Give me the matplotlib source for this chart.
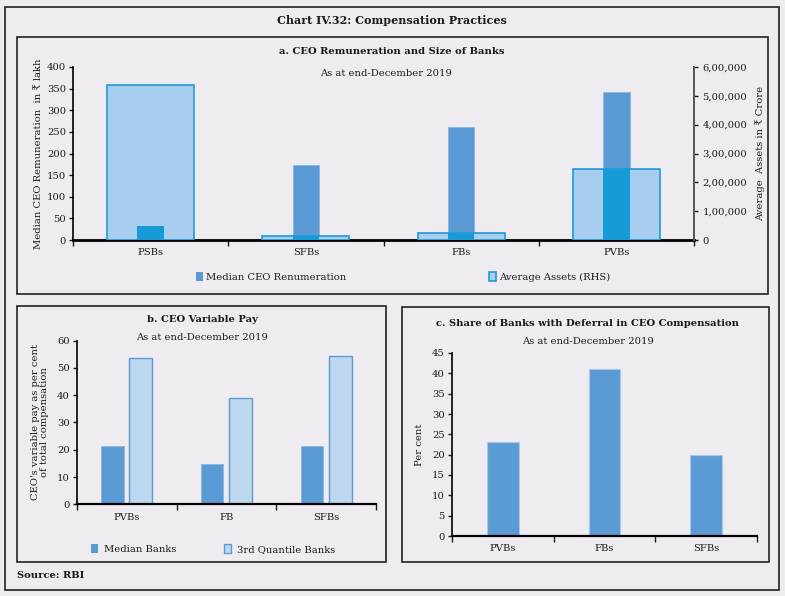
import matplotlib
matplotlib.use('Agg')
import matplotlib.pyplot as plt
import matplotlib.patches as mpt
from matplotlib.lines import Line2D
import numpy as np

# ------------------------------------------------------------------ DATA
cats_a = ['PSBs', 'SFBs', 'FBs', 'PVBs']
remun_a = [32, 173, 262, 343]                 # median CEO remuneration, Rs lakh
assets_a = [537000, 13000, 23000, 245000]     # average assets, Rs crore (RHS)

cats_b = ['PVBs', 'FB', 'SFBs']
median_b = [21.3, 14.9, 21.5]
quart_b = [53.5, 38.9, 54.3]

cats_c = ['PVBs', 'FBs', 'SFBs']
share_c = [23, 41, 20]

# ------------------------------------------------------------------ STYLE
W, H = 785, 596
bg = '#efecf1'
dark = '#5b9bd5'
light_a = '#a9cdee'
edge_a = '#1f9ad8'
overlap = '#169bd7'
light_b = '#bdd7ee'
txt = '#1a1a1a'
fnt = 7.2

plt.rcParams['font.family'] = ['DejaVu Serif', 'DejaVu Sans']
plt.rcParams['font.size'] = fnt
plt.rcParams['text.color'] = txt
plt.rcParams['axes.labelcolor'] = txt
plt.rcParams['xtick.color'] = txt
plt.rcParams['ytick.color'] = txt

fig = plt.figure(figsize=(W/100, H/100), dpi=100, facecolor=bg)


def px_axes(x0, y0, x1, y1):
    return fig.add_axes([x0/W, 1-y1/H, (x1-x0)/W, (y1-y0)/H])


def px_box(x0, y0, x1, y1, lw=1.2):
    r = mpt.Rectangle((x0/W, 1-y1/H), (x1-x0)/W, (y1-y0)/H, transform=fig.transFigure,
                      fill=False, ec='#222222', lw=lw)
    fig.add_artist(r)


def px_text(x, y, s, **kw):
    fig.text(x/W, 1-y/H, s, ha=kw.pop('ha', 'center'), va=kw.pop('va', 'center'), **kw)


def style_cat_axis(ax, n, names):
    ax.set_xlim(-0.5, n-0.5)
    ax.set_xticks(np.arange(-0.5, n, 1.0))
    ax.set_xticklabels([])
    ax.set_xticks(np.arange(n), minor=True)
    ax.set_xticklabels(names, minor=True)
    ax.tick_params(axis='x', which='major', length=4, width=1, direction='out')
    ax.tick_params(axis='x', which='minor', length=0, pad=6)
    ax.tick_params(axis='y', length=3, width=1, pad=2)
    ax.spines['top'].set_visible(False)
    ax.spines['right'].set_visible(False)
    ax.spines['bottom'].set_linewidth(1.6)
    ax.spines['left'].set_linewidth(1.2)
    ax.set_facecolor('none')


# outer frame + title
px_box(5, 7, 779, 590)
px_text(392, 21, 'Chart IV.32: Compensation Practices', fontweight='bold', fontsize=8)

# ------------------------------------------------------------------ PANEL A
px_box(17, 37, 768, 294)
px_text(392, 51, 'a. CEO Remuneration and Size of Banks', fontweight='bold')
px_text(386, 73, 'As at end-December 2019')

ax = px_axes(73, 67, 694, 240)
x = np.arange(len(cats_a))
ax.bar(x, remun_a, width=0.17, color=dark, ec='#8ab7e3', lw=0.6, zorder=2)
ax.set_ylim(0, 400)
ax.set_yticks(np.arange(0, 401, 50))
style_cat_axis(ax, len(cats_a), cats_a)
ax.spines['bottom'].set_linewidth(2)
ax.set_ylabel('Median CEO Remuneration  in \u20b9 lakh', labelpad=3)

ax2 = ax.twinx()
ax2.bar(x, assets_a, width=0.56, color=light_a, ec=edge_a, lw=1.2, zorder=2)
ov = np.minimum(np.array(remun_a)*1500, assets_a)
ax2.bar(x, ov, width=0.17, color=overlap, lw=0, zorder=3)
ax2.set_ylim(0, 600000)
ax2.set_yticks(np.arange(0, 600001, 100000))
ax2.set_yticklabels(['0'] + ['{:d},00,000'.format(i) for i in range(1, 7)])
ax2.tick_params(axis='y', length=3, width=1, pad=3)
for s in ['top', 'left', 'bottom']:
    ax2.spines[s].set_visible(False)
ax2.spines['right'].set_color('#555555')
ax2.spines['right'].set_linewidth(1.4)
ax2.set_ylabel('Average  Assets in \u20b9 Crore', labelpad=6)
ax2.set_facecolor('none')

h1 = mpt.Patch(fc=dark, ec='none')
h2 = mpt.Patch(fc=light_a, ec=edge_a, lw=1.2)
for hh, lab, xp in [(h1, 'Median CEO Renumeration', 196), (h2, 'Average Assets (RHS)', 489)]:
    fig.legend(handles=[hh], labels=[lab], loc='center left', bbox_to_anchor=(xp/W, 1-277/H),
               frameon=False, handlelength=0.7, handleheight=0.9, handletextpad=0.3,
               borderpad=0, borderaxespad=0)

# ------------------------------------------------------------------ PANEL B
px_box(17, 306, 386, 562)
px_text(202, 320, 'b. CEO Variable Pay', fontweight='bold')
px_text(202, 337, 'As at end-December 2019')

bx = px_axes(77, 340.7, 376, 504.3)
xb = np.arange(len(cats_b))
bx.bar(xb-0.145, median_b, width=0.225, color=dark, ec='#8ab7e3', lw=0.6, zorder=2)
bx.bar(xb+0.14, quart_b, width=0.23, color=light_b, ec=dark, lw=1.0, zorder=2)
bx.set_ylim(0, 60)
bx.set_yticks(np.arange(0, 61, 10))
style_cat_axis(bx, len(cats_b), cats_b)
bx.set_ylabel("CEO's variable pay as per cent\nof total compensation", labelpad=6,
              linespacing=1.0)

hb1 = mpt.Patch(fc=dark, ec='none')
hb2 = mpt.Patch(fc=light_b, ec=dark, lw=1.0)
for hh, lab, xp in [(hb1, 'Median Banks', 91), (hb2, '3rd Quantile Banks', 224)]:
    fig.legend(handles=[hh], labels=[lab], loc='center left', bbox_to_anchor=(xp/W, 1-549/H),
               frameon=False, handlelength=0.7, handleheight=0.9, handletextpad=0.6,
               borderpad=0, borderaxespad=0)

px_text(17, 576, 'Source: RBI', fontweight='bold', ha='left')

# ------------------------------------------------------------------ PANEL C
px_box(402, 307, 769, 562)
px_text(588, 324, 'c. Share of Banks with Deferral in CEO Compensation', fontweight='bold')
px_text(588, 342, 'As at end-December 2019')

cx = px_axes(452, 353, 757, 536)
xc = np.arange(len(cats_c))
cx.bar(xc, share_c, width=0.31, color=dark, ec='#a9c9ec', lw=0.8, zorder=2)
cx.set_ylim(0, 45)
cx.set_yticks(np.arange(0, 46, 5))
style_cat_axis(cx, len(cats_c), cats_c)
cx.set_ylabel('Per cent', labelpad=6)

fig.savefig('out.png', dpi=100, facecolor=bg)
